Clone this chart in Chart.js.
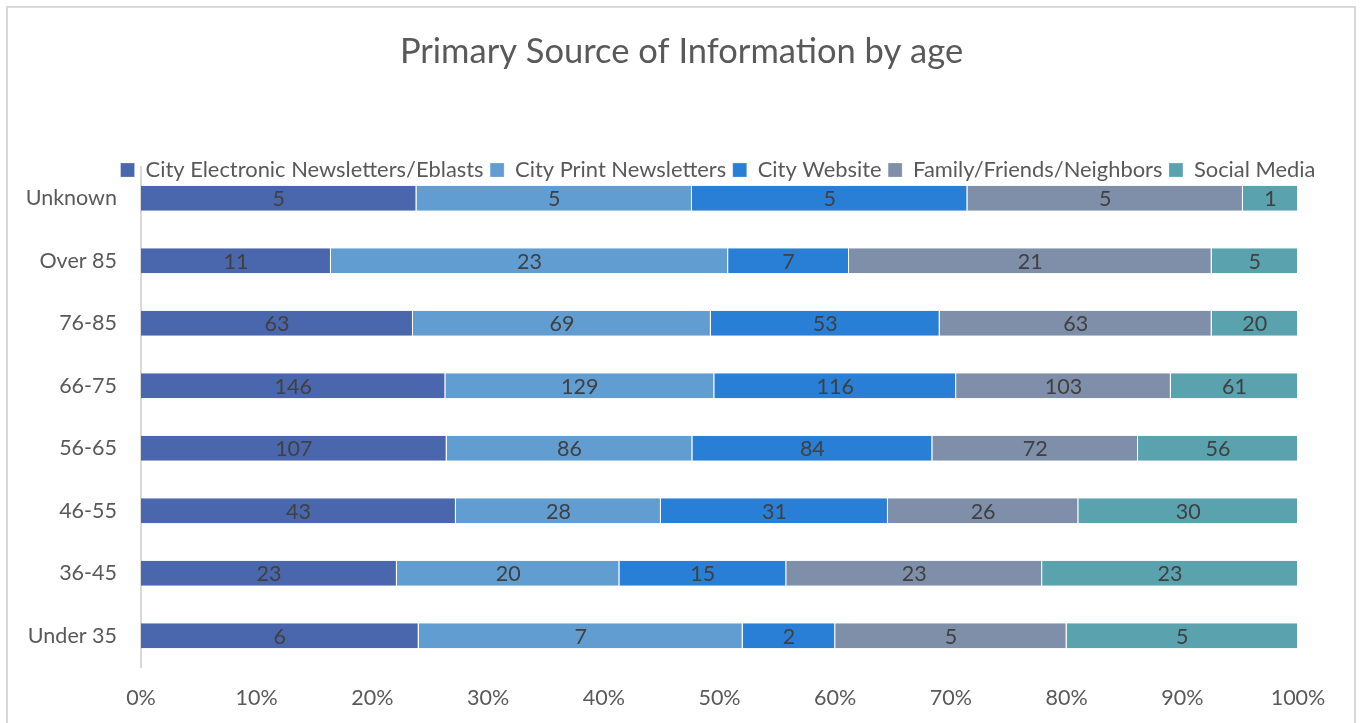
<!DOCTYPE html>
<html>
<head>
<meta charset="utf-8">
<script src="https://cdn.jsdelivr.net/npm/chart.js@4/dist/chart.umd.min.js"></script>
<style>
  html, body { margin: 0; padding: 0; background: #fff; overflow: hidden; }
  #frame { position: absolute; left: 6px; top: 6px; width: 1346px; height: 740px; border: 2px solid #d9d9d9; }
  #wrap { position: absolute; left: 0; top: 0; width: 1364px; height: 723px; }
</style>
</head>
<body>
<div id="frame"></div>
<div id="wrap"><canvas id="sourceChart"></canvas></div>
<script>
// --- Age groups, top to bottom as in the picture ---
const ageGroups = ["Unknown", "Over 85", "76-85", "66-75", "56-65", "46-55", "36-45", "Under 35"];

// --- Response counts per source ---
const electronicNewsletters = [5, 11, 63, 146, 107, 43, 23, 6];
const printNewsletters      = [5, 23, 69, 129, 86, 28, 20, 7];
const cityWebsite           = [5, 7, 53, 116, 84, 31, 15, 2];
const familyFriends         = [5, 21, 63, 103, 72, 26, 23, 5];
const socialMedia           = [1, 5, 20, 61, 56, 30, 23, 5];

const percentTicks = [0, 10, 20, 30, 40, 50, 60, 70, 80, 90, 100];

const seriesList = [
    { name: "City Electronic Newsletters/Eblasts", counts: electronicNewsletters, color: "#4a66ac" },
    { name: "City Print Newsletters", counts: printNewsletters, color: "#629dd1" },
    { name: "City Website", counts: cityWebsite, color: "#297fd5" },
    { name: "Family/Friends/Neighbors", counts: familyFriends, color: "#7f8fa9" },
    { name: "Social Media", counts: socialMedia, color: "#5aa2ae" }
];

// row totals for the 100% stack
const rowTotals = ageGroups.map((_, i) => seriesList.reduce((s, ser) => s + ser.counts[i], 0));

const FONT = "Lato, 'Open Sans', sans-serif";
const TEXT_SIZE = 21.5;

// --- Draw the raw counts in the middle of each segment ---
const countLabels = {
    id: 'countLabels',
    afterDatasetsDraw(chart) {
        const ctx = chart.ctx;
        ctx.save();
        ctx.font = TEXT_SIZE + "px " + FONT;
        ctx.fillStyle = "#404040";
        ctx.textAlign = "center";
        ctx.textBaseline = "middle";
        chart.data.datasets.forEach((ds, di) => {
            const meta = chart.getDatasetMeta(di);
            meta.data.forEach((bar, i) => {
                const cx = (bar.x + bar.base) / 2;
                ctx.fillText(String(ds.counts[i]), cx, bar.y + 1);
            });
        });
        ctx.restore();
    }
};

// Excel puts the legend over the top edge of the plot area, centred on the plot,
// and the title centred on the whole chart
const headerShift = {
    id: 'headerShift',
    afterLayout(chart) {
        const lg = chart.legend;
        lg.top += 24;
        lg.bottom += 24;
        lg.left += 69;
        lg.right += 69;
        const tb = chart.titleBlock;
        tb.left += 32.5;
        tb.right += 32.5;
    }
};

const data = {
    labels: ageGroups,
    datasets: seriesList.map(ser => ({
        label: ser.name,
        counts: ser.counts,
        data: ser.counts.map((v, i) => v / rowTotals[i] * 100),
        backgroundColor: ser.color,
        borderColor: "#ffffff",
        borderWidth: { left: 0, right: 1, top: 0, bottom: 0 },
        borderSkipped: false,
        categoryPercentage: 0.8,
        barPercentage: 0.5
    }))
};

const config = {
    type: 'bar',
    data: data,
    plugins: [countLabels, headerShift],
    options: {
        indexAxis: 'y',
        animation: false,
        responsive: true,
        maintainAspectRatio: false,
        layout: { padding: { left: 0, right: 66, top: 0, bottom: 0 } },
        scales: {
            x: {
                stacked: true,
                min: 0,
                max: 100,
                afterBuildTicks: (scale) => { scale.ticks = percentTicks.map(v => ({ value: v })); },
                afterFit: (scale) => { scale.height = 56; },
                ticks: {
                    callback: (v) => v + "%",
                    color: "#595959",
                    font: { family: FONT, size: TEXT_SIZE },
                    padding: 18,
                    maxRotation: 0
                },
                grid: { display: false, drawTicks: false },
                border: { display: false }
            },
            y: {
                stacked: true,
                afterFit: (scale) => { scale.width = 141; },
                ticks: {
                    color: "#595959",
                    font: { family: FONT, size: TEXT_SIZE },
                    padding: 24
                },
                grid: { display: false, drawTicks: false },
                border: { display: true, color: "#d9d9d9", width: 2 }
            }
        },
        plugins: {
            title: {
                display: true,
                text: "Primary Source of Information by age",
                color: "#595959",
                font: { family: FONT, size: 34.5, weight: 'normal' },
                padding: { top: 31.3, bottom: 55.9 }
            },
            legend: {
                position: 'top',
                labels: {
                    color: "#595959",
                    font: { family: FONT, size: 21.9 },
                    boxWidth: 14,
                    boxHeight: 14,
                    padding: 6.5
                }
            },
            tooltip: { enabled: false }
        }
    }
};

new Chart(document.getElementById('sourceChart'), config);
</script>
</body>
</html>
